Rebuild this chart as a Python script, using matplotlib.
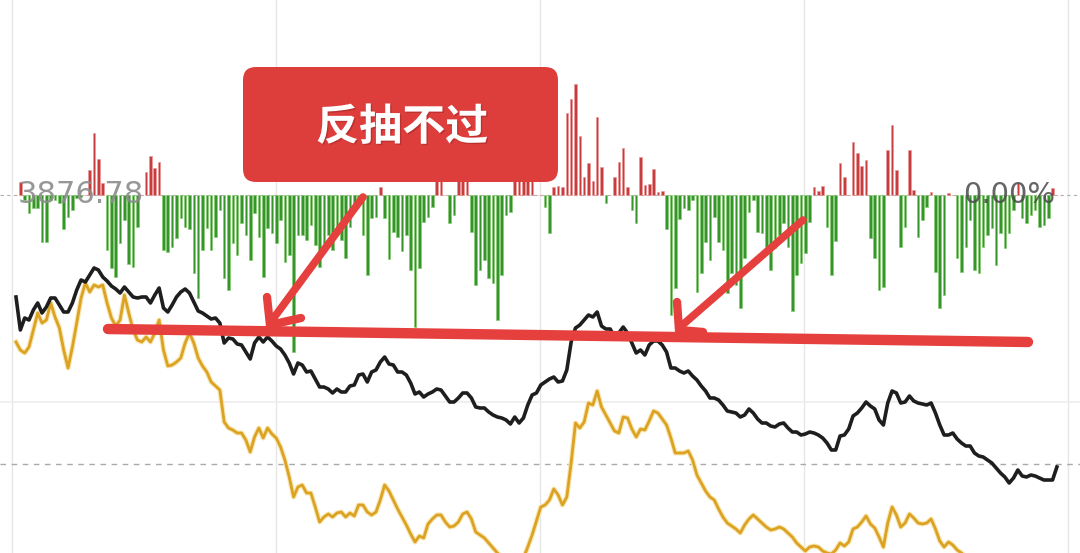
import numpy as np
import matplotlib
matplotlib.use("Agg")
import matplotlib.pyplot as plt
import matplotlib.patheffects as pe
from matplotlib.patches import FancyBboxPatch

# previous close (shown on the zero line of the bars)
prev_close = 3876.78

# red/green strength bars per minute (points, same scale as the index lines)
bar_vals = [
    0, 1.3, -0.5, -1.8, -1.3, -1.3, -4.7, -4.7, -0.5, -0.5,
    -0.8, -3.4, -2.2, -1.5, -0.3, -0.2, 0, 2.5, 6.2, 3.6,
    1.2, -5.5, -7.3, -8.2, -4.8, -2.5, -6.9, -7.2, -3.2, 0,
    2.3, 3.9, 2.7, 3.3, -5.5, -5.7, -5.2, -4.3, -2.3, -3.2,
    -3.4, -7.8, -10.3, -5.5, -3.3, -5.5, -4.2, -1.5, -8.3, -9.5,
    -4.8, -6.0, -2.8, -4.0, -6.5, -1.8, -4.2, -8.2, -3.3, -3.8,
    -4.8, -2.5, -6.7, -6.0, -15.7, -4.0, -4.0, -4.5, -3.0, -5.0,
    -7.2, -5.2, -4.0, -5.5, -3.5, -4.5, -6.3, -3.2, -1.3, -1.0,
    -4.0, -8.0, -2.3, -2.2, 0.8, -2.3, -6.4, -3.7, -4.2, -5.6,
    -4.0, -7.5, -13.2, -7.3, -2.7, -2.2, -1.2, 2.0, 1.8, 0,
    -2.8, -2.0, 1.5, 2.0, 1.6, -3.7, -9.0, -7.5, -6.5, -8.3,
    -8.8, -12.5, -8.0, -2.0, -1.7, 1.8, 2.2, 2.0, 1.6, 1.4,
    0, 0, -1.2, -3.8, 0.8, 0.9, 0.8, 8.2, 9.6, 11.1,
    5.9, 1.8, 3.2, 1.4, 7.8, 2.8, -0.8, 0, 1.8, 3.3,
    4.7, 0.8, -1.5, -2.8, 3.8, 1.0, 1.1, 2.6, 0.3, 0.4,
    -3.4, -12.0, -9.3, -2.4, -1.3, -1.5, -0.5, -9.7, -7.8, -4.7,
    -6.5, -2.2, -4.7, -5.5, -9.8, -7.8, -9.0, -11.3, -6.3, -1.7,
    -0.5, -3.7, -3.8, -5.5, -7.5, -5.3, -4.0, -2.8, -5.2, -11.6,
    -8.0, -6.8, -5.8, -2.7, 0.8, 0.4, 0.9, -3.2, -8.0, -4.6,
    3.2, 1.8, 0, 5.3, 4.2, 2.9, 3.5, -4.3, -6.3, -9.5,
    -9.2, 4.5, 7.0, 2.5, -5.2, -3.2, 4.5, 0.5, -4.2, -2.5,
    -1.2, 0.3, -7.7, -11.3, -10.0, 0.2, 0, -6.3, -7.7, -5.2,
    -2.5, -7.5, -7.8, -5.2, -4.0, -3.3, -7.0, -3.8, -5.3, -3.8,
    -1.5, 1.2, -2.3, -2.8, -2.0, -1.5, -3.2, -3.0, -2.3, 0.7,
    0,
]

# index line, change in points vs previous close
black_chg = [
    -10.2, -13.5, -12.3, -12.5, -11.5, -10.8, -11.8, -11.2, -10.3, -10.3,
    -11.0, -11.7, -11.7, -10.8, -9.5, -8.5, -8.7, -8.0, -7.3, -7.5,
    -8.2, -8.6, -9.1, -9.4, -9.8, -9.2, -9.7, -10.2, -10.3, -10.2,
    -10.2, -10.8, -10.0, -9.3, -11.3, -11.7, -11.0, -10.2, -9.7, -9.4,
    -9.8, -10.7, -11.6, -11.8, -12.1, -12.4, -12.3, -12.8, -14.8, -14.3,
    -14.4, -14.9, -15.0, -15.7, -16.4, -14.8, -14.2, -14.7, -14.2, -14.6,
    -15.1, -15.4, -16.0, -16.8, -17.9, -16.8, -17.0, -17.7, -17.6, -18.4,
    -19.2, -19.2, -19.4, -19.8, -19.4, -19.7, -19.7, -19.1, -19.0, -18.0,
    -17.9, -18.7, -17.7, -17.5, -16.7, -16.2, -16.9, -17.0, -17.7, -17.7,
    -18.0, -18.8, -19.9, -19.7, -20.2, -19.9, -19.7, -19.4, -19.5, -20.1,
    -20.7, -20.7, -20.3, -19.8, -19.8, -20.3, -21.2, -21.3, -21.3, -21.7,
    -22.0, -22.2, -22.3, -22.5, -22.9, -22.2, -22.8, -22.3, -21.0, -20.0,
    -19.8, -19.0, -18.7, -18.4, -18.2, -18.7, -18.6, -17.5, -14.7, -13.3,
    -13.0, -12.5, -12.0, -12.2, -11.7, -13.1, -13.4, -13.4, -14.2, -13.8,
    -13.2, -13.8, -14.8, -15.8, -15.5, -16.0, -15.0, -14.6, -14.6, -15.0,
    -15.7, -17.3, -17.3, -17.6, -17.8, -17.6, -18.1, -18.5, -19.1, -19.6,
    -20.3, -20.3, -20.5, -21.0, -21.6, -21.7, -21.8, -22.2, -22.0, -21.4,
    -21.8, -22.4, -22.8, -22.8, -23.1, -23.2, -22.9, -22.8, -23.3, -23.7,
    -23.7, -24.0, -23.9, -23.7, -23.8, -24.0, -24.3, -24.8, -25.5, -25.5,
    -24.1, -24.0, -23.4, -22.1, -21.8, -21.3, -20.7, -21.1, -21.4, -22.5,
    -23.0, -20.8, -19.6, -19.8, -20.8, -20.7, -20.1, -20.6, -20.8, -20.9,
    -21.0, -20.8, -21.8, -23.0, -24.0, -24.0, -23.8, -24.4, -24.8, -25.1,
    -25.1, -25.8, -26.1, -26.2, -26.5, -26.8, -27.3, -27.8, -28.2, -28.8,
    -28.3, -27.5, -28.1, -28.2, -28.0, -28.1, -28.3, -28.5, -28.5, -28.5,
    -27.2,
]

# equal-weight line, change in points vs previous close
orange_chg = [
    -14.7, -15.5, -15.8, -15.2, -13.5, -11.8, -12.8, -12.5, -10.8, -12.2,
    -13.3, -15.5, -17.3, -15.2, -12.8, -10.3, -8.8, -9.7, -9.0, -9.2,
    -9.0, -10.8, -12.3, -13.1, -12.5, -10.0, -11.8, -13.5, -14.5, -14.7,
    -14.2, -14.7, -13.8, -12.5, -15.5, -17.1, -17.0, -16.7, -16.3, -14.8,
    -13.8, -14.8, -16.3, -17.1, -17.7, -18.7, -19.1, -19.5, -22.7, -23.3,
    -23.5, -23.8, -23.8, -24.5, -25.7, -24.2, -23.3, -24.3, -23.3, -23.9,
    -24.3, -25.2, -26.5, -28.2, -30.2, -29.2, -29.0, -29.8, -29.8, -31.2,
    -32.7, -32.2, -31.9, -32.2, -31.8, -31.7, -32.2, -31.8, -32.1, -31.0,
    -31.0, -31.7, -32.0, -31.7, -30.5, -29.0, -29.6, -30.5, -31.4, -32.2,
    -33.0, -33.9, -34.7, -34.1, -34.3, -32.9, -32.4, -32.0, -32.0, -32.7,
    -33.2, -33.1, -32.7, -31.9, -31.7, -32.4, -33.7, -34.0, -34.3, -34.8,
    -35.3, -35.8, -36.2, -36.5, -36.8, -37.0, -36.8, -36.3, -35.2, -34.0,
    -32.6, -31.2, -31.0, -30.5, -29.4, -30.0, -31.0, -30.2, -26.8, -22.8,
    -23.3, -22.7, -20.8, -21.0, -19.6, -21.2, -22.0, -22.8, -23.6, -23.8,
    -22.2, -22.3, -23.4, -24.2, -23.4, -23.5, -22.6, -21.6, -21.8, -22.4,
    -23.0, -24.3, -25.8, -25.8, -25.8, -25.6, -26.5, -28.0, -28.8, -29.6,
    -30.2, -30.5, -31.4, -32.2, -32.8, -33.1, -33.4, -33.8, -33.0, -32.4,
    -32.0, -32.4, -32.8, -33.2, -33.5, -33.4, -33.2, -33.4, -33.8, -34.2,
    -34.8, -35.2, -35.6, -35.2, -35.1, -35.2, -35.6, -35.8, -35.9, -35.5,
    -34.8, -35.1, -34.7, -33.4, -33.2, -32.7, -32.1, -32.9, -33.3, -34.2,
    -35.2, -32.8, -31.2, -32.0, -33.2, -32.8, -31.9, -32.3, -32.8, -32.9,
    -32.8, -32.4, -33.4, -34.6, -35.2, -34.7, -35.0, -35.5, -35.8, -36.2,
    -36.3, -36.9, -37.2, -37.3, -37.6, -37.9, -38.4, -38.9, -39.3, -39.9,
    -39.4, -38.6, -39.2, -39.3, -39.1, -39.2, -39.4, -39.6, -39.6, -39.6,
    -38.3,
]

label_left = "3876.78"
label_right = "0.00%"
note_text = "反抽不过"

x = np.arange(len(bar_vals))
bars = np.array(bar_vals)
black = prev_close + np.array(black_chg)
orange = prev_close + np.array(orange_chg)

fig = plt.figure(figsize=(10.8, 5.53), dpi=100)
ax = fig.add_axes([0, 0, 1, 1])
ax.set_xlim(-3.69, 245.33)
ax.set_ylim(prev_close - 35.8, prev_close + 19.5)
ax.axis("off")

# grid
for gx in np.linspace(-0.9, 242.6, 5):
    ax.axvline(gx, color="#e6e6e6", lw=1.0, zorder=0)
ax.axhline(prev_close - 20.7, color="#ececec", lw=1.2, zorder=0)
ax.axhline(prev_close - 26.9, color="#a9a9a9", lw=1.0, dashes=(4, 4), zorder=0)
ax.axhline(prev_close, color="#b0b0b0", lw=0.8, dashes=(3, 3), zorder=0)

# red / green bars from the previous close
face = np.where(bars >= 0, "#c63d3d", "#36952a")
edge = np.where(bars >= 0, "#ec9a9a", "#86cc74")
ax.bar(x, bars, bottom=prev_close, width=0.6, color=face,
       edgecolor=edge, linewidth=0.5, zorder=1)

# price lines
ax.plot(x, orange, color="#dba224", lw=2.0, zorder=3,
        path_effects=[pe.Stroke(linewidth=3.6, foreground="#f8e6b0"), pe.Normal()])
ax.plot(x, black, color="#1e1e1e", lw=2.6, zorder=4)

# level labels
ax.text(0.4, prev_close, label_left, fontsize=22, family="DejaVu Sans",
        color="#8c8c8c", alpha=0.9, ha="left", va="center", zorder=5)
ax.text(239.6, prev_close, label_right, fontsize=21, family="DejaVu Sans",
        color="#4a4a4a", alpha=0.85, ha="right", va="center", zorder=5)

# hand-drawn annotation layer (pixel coordinates)
ann = fig.add_axes([0, 0, 1, 1], facecolor="none")
ann.set_xlim(0, 1080)
ann.set_ylim(553, 0)
ann.axis("off")

red = "#e5403d"
box = FancyBboxPatch((243, 67), 315, 115,
                     boxstyle="round,pad=0,rounding_size=13",
                     facecolor="#de3e3b", edgecolor="none", zorder=6)
ann.add_patch(box)
ann.text(402, 127, note_text, fontsize=31, fontweight="bold",
         family=["Noto Sans CJK SC", "DejaVu Sans"], color="white",
         ha="center", va="center", zorder=7,
         path_effects=[pe.withSimplePatchShadow(offset=(1, -1), shadow_rgbFace="#8a2020", alpha=0.4)])

kw = dict(color=red, solid_capstyle="round", zorder=8)
ann.plot([108, 1028], [329, 342], lw=7.5, **kw)
# arrow 1
ann.plot([363, 270], [197, 323], lw=5.5, **kw)
ann.plot([267, 270], [297, 325], lw=6.0, **kw)
ann.plot([301, 270], [318, 325], lw=6.0, **kw)
# arrow 2
ann.plot([803, 679], [220, 328], lw=5.5, **kw)
ann.plot([677, 679], [302, 330], lw=6.0, **kw)
ann.plot([703, 679], [332, 330], lw=6.0, **kw)

fig.savefig("out.png", dpi=100)
